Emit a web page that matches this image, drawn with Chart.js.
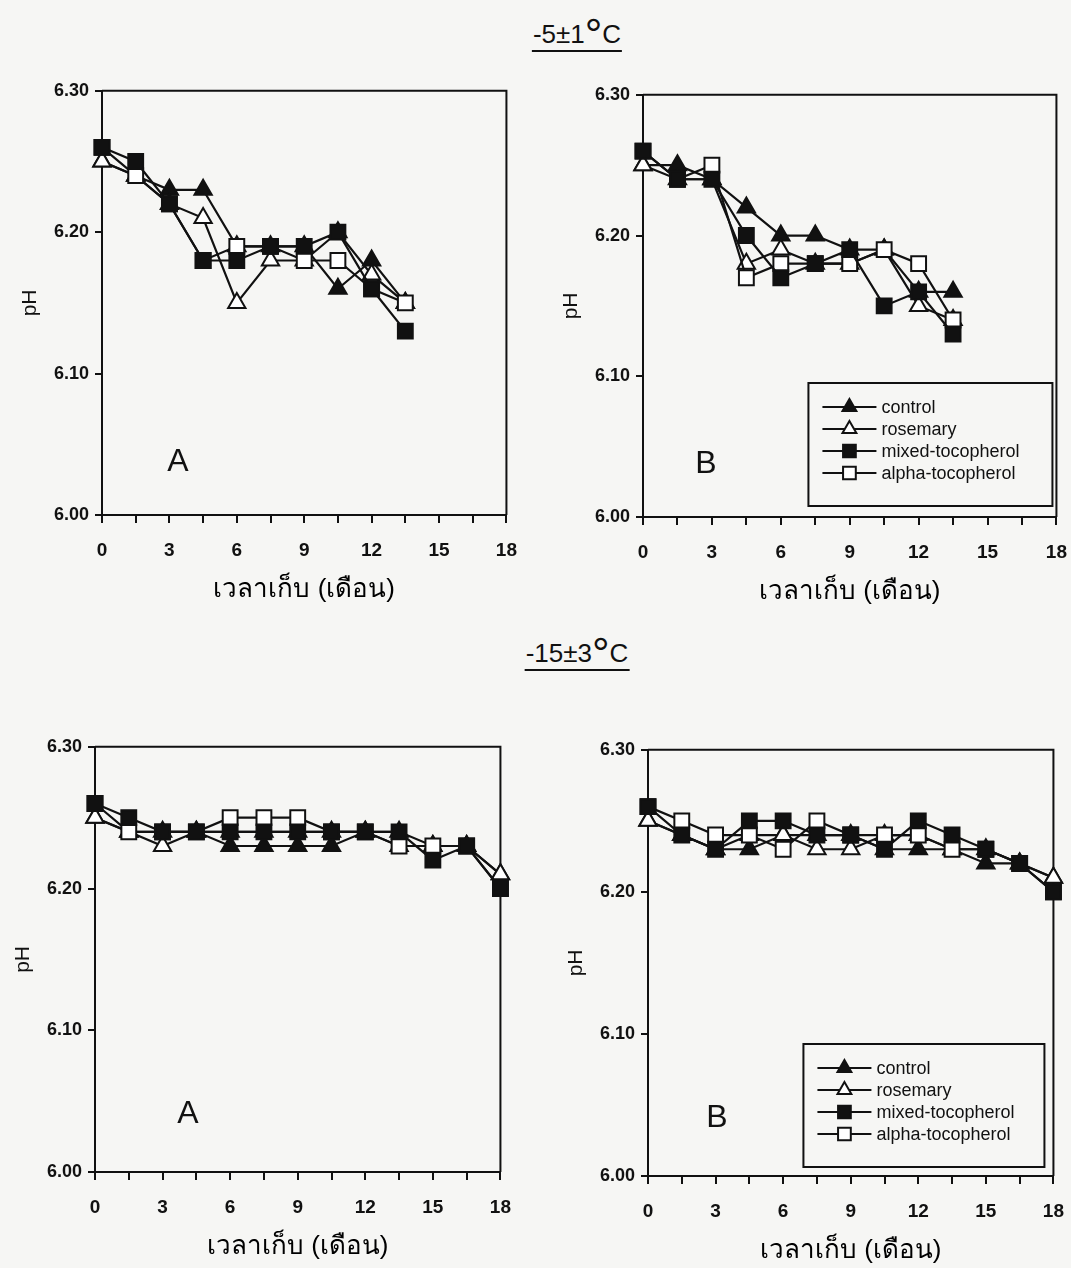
<!DOCTYPE html>
<html lang="th">
<head>
<meta charset="utf-8">
<title>pH ระหว่างการเก็บรักษา</title>
<script src="https://cdn.jsdelivr.net/npm/chart.js@4.4.1/dist/chart.umd.min.js"></script>
<style>
    html, body { margin: 0; padding: 0; background: #f6f6f4; }
    body {
        width: 1071px; height: 1268px; position: relative; overflow: hidden;
        font-family: "Liberation Sans", Arial, sans-serif; color: #111;
    }
    canvas { position: absolute; }
    .temp {
        position: absolute; transform: translateX(-50%);
        font-size: 26px; line-height: 30px; white-space: nowrap;
        border-bottom: 2px solid #111; padding: 0 1px 1px 1px;
    }
    .temp .deg { font-size: 44px; line-height: 0; position: relative; top: 7px; }
</style>
</head>
<body>
<div class="temp" style="left:577px; top:19px">-5±1<span class="deg">°</span>C</div>
<div class="temp" style="left:577px; top:638px">-15±3<span class="deg">°</span>C</div>

<script>
// x values (months of storage) and axis ticks
const monthsShort = [0, 1.5, 3, 4.5, 6, 7.5, 9, 10.5, 12, 13.5];
const monthsLong = [0, 1.5, 3, 4.5, 6, 7.5, 9, 10.5, 12, 13.5, 15, 16.5, 18];
const monthTicks = [0, 1.5, 3, 4.5, 6, 7.5, 9, 10.5, 12, 13.5, 15, 16.5, 18];
const phTicks = [6.00, 6.10, 6.20, 6.30];
const seriesNames = ['control', 'rosemary', 'mixed-tocopherol', 'alpha-tocopherol'];

// -5±1 °C, A
const warmAControl  = [6.25, 6.24, 6.23, 6.23, 6.19, 6.19, 6.19, 6.16, 6.18, 6.15];
const warmARosemary = [6.25, 6.24, 6.22, 6.21, 6.15, 6.18, 6.18, 6.20, 6.17, 6.15];
const warmAMixed    = [6.26, 6.25, 6.22, 6.18, 6.18, 6.19, 6.19, 6.20, 6.16, 6.13];
const warmAAlpha    = [6.26, 6.24, 6.22, 6.18, 6.19, 6.19, 6.18, 6.18, 6.16, 6.15];

// -5±1 °C, B
const warmBControl  = [6.25, 6.25, 6.24, 6.22, 6.20, 6.20, 6.19, 6.19, 6.16, 6.16];
const warmBRosemary = [6.25, 6.24, 6.24, 6.18, 6.19, 6.18, 6.18, 6.19, 6.15, 6.14];
const warmBMixed    = [6.26, 6.24, 6.24, 6.20, 6.17, 6.18, 6.19, 6.15, 6.16, 6.13];
const warmBAlpha    = [6.26, 6.24, 6.25, 6.17, 6.18, 6.18, 6.18, 6.19, 6.18, 6.14];

// -15±3 °C, A
const coldAControl  = [6.25, 6.24, 6.24, 6.24, 6.23, 6.23, 6.23, 6.23, 6.24, 6.24, 6.23, 6.23, 6.21];
const coldARosemary = [6.25, 6.24, 6.23, 6.24, 6.24, 6.24, 6.24, 6.24, 6.24, 6.23, 6.23, 6.23, 6.21];
const coldAMixed    = [6.26, 6.25, 6.24, 6.24, 6.24, 6.24, 6.24, 6.24, 6.24, 6.24, 6.22, 6.23, 6.20];
const coldAAlpha    = [6.26, 6.24, 6.24, 6.24, 6.25, 6.25, 6.25, 6.24, 6.24, 6.23, 6.23, 6.23, 6.20];

// -15±3 °C, B
const coldBControl  = [6.25, 6.24, 6.23, 6.23, 6.24, 6.24, 6.24, 6.23, 6.23, 6.23, 6.22, 6.22, 6.21];
const coldBRosemary = [6.25, 6.24, 6.23, 6.24, 6.24, 6.23, 6.23, 6.24, 6.24, 6.23, 6.23, 6.22, 6.21];
const coldBMixed    = [6.26, 6.24, 6.23, 6.25, 6.25, 6.24, 6.24, 6.23, 6.25, 6.24, 6.23, 6.22, 6.20];
const coldBAlpha    = [6.26, 6.25, 6.24, 6.24, 6.23, 6.25, 6.24, 6.24, 6.24, 6.23, 6.23, 6.22, 6.20];

const INK = '#111111';
const PAPER = '#f6f6f4';
const FONT = '"Liberation Sans", Arial, "DejaVu Sans", "Noto Sans", sans-serif';
const Y_AXIS_W = 88;
const X_AXIS_H = 94;

// squares sit on top of triangles, as in the original figure
const markerStyles = [
    { pointStyle: 'triangle', fill: INK, radius: 10, order: 3 },
    { pointStyle: 'triangle', fill: '#ffffff', radius: 10, order: 2 },
    { pointStyle: 'rect', fill: INK, radius: 10.5, order: 0 },
    { pointStyle: 'rect', fill: '#ffffff', radius: 10.5, order: 1 }
];

// top and right edges of the plot box
const framePlugin = {
    id: 'frame',
    beforeDatasetsDraw(chart) {
        const { ctx, chartArea: a } = chart;
        ctx.save();
        ctx.strokeStyle = INK;
        ctx.lineWidth = 2;
        ctx.beginPath();
        ctx.moveTo(a.left, a.top);
        ctx.lineTo(a.right, a.top);
        ctx.lineTo(a.right, a.bottom);
        ctx.stroke();
        ctx.restore();
    }
};

const letterPlugin = {
    id: 'panelLetter',
    afterDraw(chart, args, opts) {
        const { ctx, chartArea: a } = chart;
        ctx.save();
        ctx.fillStyle = INK;
        ctx.font = '32px ' + FONT;
        ctx.textAlign = 'center';
        ctx.textBaseline = 'middle';
        ctx.fillText(opts.text, a.left + opts.dx, a.bottom - opts.dy);
        ctx.restore();
    }
};

function drawMarker(ctx, style, x, y, r) {
    ctx.beginPath();
    if (style === 'triangle') {
        ctx.moveTo(x, y - r);
        ctx.lineTo(x + r * 0.866, y + r * 0.5);
        ctx.lineTo(x - r * 0.866, y + r * 0.5);
        ctx.closePath();
    } else {
        const s = r * Math.SQRT1_2;
        ctx.rect(x - s, y - s, 2 * s, 2 * s);
    }
    ctx.fill();
    ctx.stroke();
}

const legendPlugin = {
    id: 'boxLegend',
    afterDraw(chart, args, opts) {
        if (!opts.show) return;
        const { ctx, chartArea: a } = chart;
        const right = a.right - opts.rightInset;
        const bottom = a.bottom - opts.bottomInset;
        const left = right - opts.width;
        const top = bottom - opts.height;
        ctx.save();
        ctx.fillStyle = PAPER;
        ctx.fillRect(left, top, opts.width, opts.height);
        ctx.strokeStyle = INK;
        ctx.lineWidth = 2;
        ctx.strokeRect(left, top, opts.width, opts.height);
        ctx.font = '18px ' + FONT;
        ctx.textBaseline = 'middle';
        chart.data.datasets.forEach((ds, i) => {
            const y = top + 24 + i * 22;
            const x0 = left + 14;
            ctx.strokeStyle = INK;
            ctx.lineWidth = 2;
            ctx.beginPath();
            ctx.moveTo(x0, y);
            ctx.lineTo(x0 + 54, y);
            ctx.stroke();
            ctx.fillStyle = ds.pointBackgroundColor;
            drawMarker(ctx, ds.pointStyle, x0 + 27, y, ds.pointStyle === 'rect' ? 9 : 8);
            ctx.fillStyle = INK;
            ctx.fillText(ds.label, x0 + 59, y + 1);
        });
        ctx.restore();
    }
};

function buildPanel(cfg) {
    const p = cfg.plot;
    const w = p.right - p.left + Y_AXIS_W + 30;
    const h = p.bottom - p.top + X_AXIS_H + 30;
    const canvas = document.createElement('canvas');
    canvas.width = w;
    canvas.height = h;
    canvas.style.width = w + 'px';
    canvas.style.height = h + 'px';
    document.body.appendChild(canvas);

    const datasets = cfg.series.map((values, i) => ({
        label: seriesNames[i],
        data: cfg.months.map((m, j) => ({ x: m, y: values[j] })),
        order: markerStyles[i].order,
        clip: false,
        showLine: true,
        borderColor: INK,
        borderWidth: 2.2,
        backgroundColor: markerStyles[i].fill,
        pointStyle: markerStyles[i].pointStyle,
        pointRadius: markerStyles[i].radius,
        pointBackgroundColor: markerStyles[i].fill,
        pointBorderColor: INK,
        pointBorderWidth: 2
    }));

    const chart = new Chart(canvas, {
        type: 'scatter',
        data: { datasets },
        plugins: [framePlugin, letterPlugin, legendPlugin],
        options: {
            responsive: false,
            maintainAspectRatio: false,
            animation: false,
            devicePixelRatio: 1,
            layout: { padding: 0 },
            plugins: {
                legend: { display: false },
                tooltip: { enabled: false },
                panelLetter: cfg.letter,
                boxLegend: cfg.legend || { show: false }
            },
            scales: {
                x: {
                    type: 'linear',
                    min: 0,
                    max: 18,
                    afterBuildTicks: s => { s.ticks = monthTicks.map(v => ({ value: v })); },
                    afterFit: s => { s.height = X_AXIS_H; },
                    ticks: {
                        autoSkip: false,
                        maxRotation: 0,
                        padding: 16,
                        color: INK,
                        font: { family: FONT, size: 19, weight: 'bold' },
                        callback: v => (v % 3 === 0 ? String(v) : '')
                    },
                    grid: { drawOnChartArea: false, drawTicks: true, tickLength: 8, color: INK, lineWidth: 2 },
                    border: { display: true, color: INK, width: 2 },
                    title: {
                        display: true,
                        text: 'เวลาเก็บ (เดือน)',
                        color: '#000',
                        padding: { top: 0, bottom: 4 },
                        font: { family: FONT, size: 26 }
                    }
                },
                y: {
                    type: 'linear',
                    min: 6.0,
                    max: 6.3,
                    afterBuildTicks: s => { s.ticks = phTicks.map(v => ({ value: v })); },
                    afterFit: s => { s.width = Y_AXIS_W; },
                    ticks: {
                        padding: 6,
                        color: INK,
                        font: { family: FONT, size: 18, weight: 'bold' },
                        callback: v => v.toFixed(2)
                    },
                    grid: { drawOnChartArea: false, drawTicks: true, tickLength: 7, color: INK, lineWidth: 2 },
                    border: { display: true, color: INK, width: 2 },
                    title: {
                        display: true,
                        text: 'pH',
                        color: INK,
                        padding: { top: 4, bottom: 0 },
                        font: { family: FONT, size: 21 }
                    }
                }
            }
        }
    });

    // size the canvas so the plot box lands exactly on the wanted rectangle
    const a = chart.chartArea;
    const newW = Math.round(w + (p.right - p.left) - (a.right - a.left));
    const newH = Math.round(h + (p.bottom - p.top) - (a.bottom - a.top));
    chart.resize(newW, newH);
    const b = chart.chartArea;
    canvas.style.left = (p.left - b.left) + 'px';
    canvas.style.top = (p.top - b.top) + 'px';
    return chart;
}

document.addEventListener('DOMContentLoaded', () => {
    buildPanel({
        plot: { left: 102, right: 506, top: 91, bottom: 515 },
        months: monthsShort,
        series: [warmAControl, warmARosemary, warmAMixed, warmAAlpha],
        letter: { text: 'A', dx: 76, dy: 53 }
    });
    buildPanel({
        plot: { left: 643, right: 1056, top: 95, bottom: 517 },
        months: monthsShort,
        series: [warmBControl, warmBRosemary, warmBMixed, warmBAlpha],
        letter: { text: 'B', dx: 63, dy: 53 },
        legend: { show: true, rightInset: 4, bottomInset: 11, width: 244, height: 123 }
    });
    buildPanel({
        plot: { left: 95, right: 500, top: 747, bottom: 1172 },
        months: monthsLong,
        series: [coldAControl, coldARosemary, coldAMixed, coldAAlpha],
        letter: { text: 'A', dx: 93, dy: 58 }
    });
    buildPanel({
        plot: { left: 648, right: 1053, top: 750, bottom: 1176 },
        months: monthsLong,
        series: [coldBControl, coldBRosemary, coldBMixed, coldBAlpha],
        letter: { text: 'B', dx: 69, dy: 58 },
        legend: { show: true, rightInset: 9, bottomInset: 9, width: 241, height: 123 }
    });
});
</script>
</body>
</html>
